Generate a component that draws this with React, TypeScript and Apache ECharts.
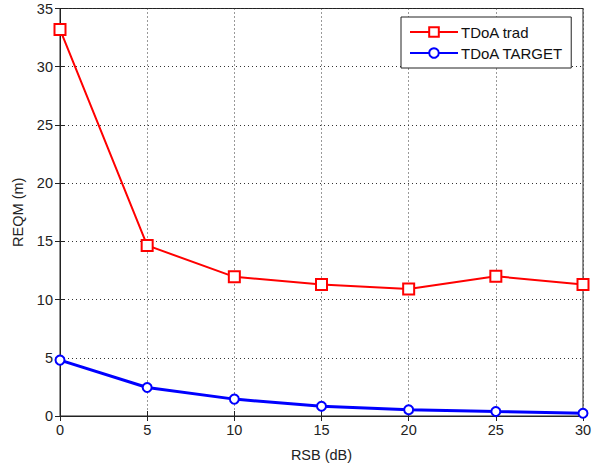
import React, { useEffect, useRef } from "react";
import * as echarts from "echarts";

const rsb = [0, 5, 10, 15, 20, 25, 30];
const tdoaTrad = [33.2, 14.65, 11.95, 11.3, 10.9, 12.0, 11.3];
const tdoaTarget = [4.8, 2.45, 1.45, 0.83, 0.53, 0.38, 0.24];
const seriesNames = ["TDoA trad", "TDoA TARGET"];
const xLabel = "RSB (dB)";
const yLabel = "REQM (m)";

const FONT = "Liberation Sans, Arial, sans-serif";

export default function App() {
  const ref = useRef<HTMLDivElement>(null);
  useEffect(() => {
    if (!ref.current) return;
    const chart = echarts.init(ref.current, undefined, { renderer: "svg" });
    const tickStyle = { show: true, inside: true, length: 5, lineStyle: { color: "#222", width: 1 } };
    const dotted = { show: true, lineStyle: { color: "#333", type: [1, 3] as any, width: 1 } };
    chart.setOption({
      animation: false,
      backgroundColor: "#fff",
      textStyle: { fontFamily: FONT },
      grid: { left: 60, top: 8.5, right: 13, bottom: 46.5, show: true, borderColor: "#222", borderWidth: 1, backgroundColor: "transparent" },
      legend: {
        orient: "vertical",
        left: 401,
        top: 17,
        width: 160,
        padding: [6.5, 8, 6.5, 8],
        itemGap: 4,
        itemWidth: 48,
        itemHeight: 12,
        backgroundColor: "#fff",
        borderColor: "#222",
        borderWidth: 1,
        textStyle: { fontFamily: FONT, fontSize: 15, color: "#111", lineHeight: 17, padding: [0, 0, 0, -2] },
        data: seriesNames,
      },
      xAxis: [
        {
          type: "value", min: 0, max: 30, interval: 5, position: "bottom",
          name: xLabel, nameLocation: "middle", nameGap: 31,
          nameTextStyle: { fontFamily: FONT, fontSize: 14.5, color: "#222" },
          axisLine: { show: true, onZero: false, lineStyle: { color: "#222" } },
          axisTick: tickStyle,
          axisLabel: { fontFamily: FONT, fontSize: 14.5, color: "#222", margin: 6 },
          splitLine: dotted,
        },
        {
          type: "value", min: 0, max: 30, interval: 5, position: "top",
          axisLine: { show: true, lineStyle: { color: "#222" } },
          axisTick: tickStyle, axisLabel: { show: false }, splitLine: { show: false },
        },
      ],
      yAxis: [
        {
          type: "value", min: 0, max: 35, interval: 5, position: "left",
          name: yLabel, nameLocation: "middle", nameGap: 32,
          nameTextStyle: { fontFamily: FONT, fontSize: 14.5, color: "#222" },
          axisLine: { show: true, onZero: false, lineStyle: { color: "#222" } },
          axisTick: tickStyle,
          axisLabel: { fontFamily: FONT, fontSize: 14.5, color: "#222", margin: 7 },
          splitLine: dotted,
        },
        {
          type: "value", min: 0, max: 35, interval: 5, position: "right",
          axisLine: { show: true, lineStyle: { color: "#222" } },
          axisTick: tickStyle, axisLabel: { show: false }, splitLine: { show: false },
        },
      ],
      series: [
        {
          name: seriesNames[0], type: "line",
          data: rsb.map((x, i) => [x, tdoaTrad[i]]),
          symbol: "emptyRect", symbolSize: 11,
          lineStyle: { color: "#ff0000", width: 2 },
          itemStyle: { color: "#ff0000", borderWidth: 2 },
        },
        {
          name: seriesNames[1], type: "line",
          data: rsb.map((x, i) => [x, tdoaTarget[i]]),
          symbol: "emptyCircle", symbolSize: 9,
          lineStyle: { color: "#0000ff", width: 3 },
          itemStyle: { color: "#0000ff", borderWidth: 2 },
        },
      ],
    });
    return () => chart.dispose();
  }, []);
  return <div ref={ref} style={{ width: 596, height: 467, position: "fixed", left: 0, top: 0 }} />;
}
